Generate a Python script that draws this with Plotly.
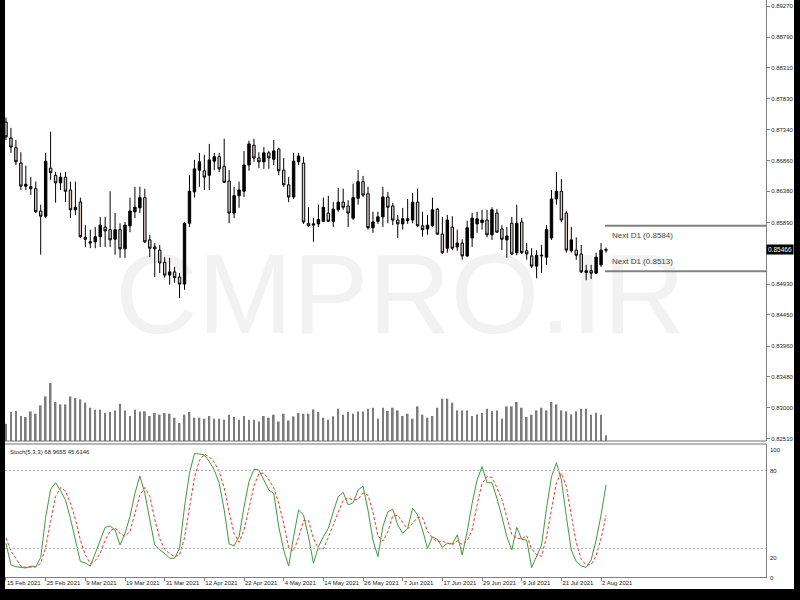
import plotly.graph_objects as go

# ---------------- data ----------------
tick_dates = ["15 Feb 2021", "25 Feb 2021", "9 Mar 2021", "19 Mar 2021", "31 Mar 2021",
              "12 Apr 2021", "22 Apr 2021", "4 May 2021", "14 May 2021", "26 May 2021",
              "7 Jun 2021", "17 Jun 2021", "29 Jun 2021", "9 Jul 2021", "21 Jul 2021", "2 Aug 2021"]
tick_every = 8

opens = [0.8746, 0.8721, 0.8706, 0.8682, 0.8646, 0.8645, 0.8642, 0.8607, 0.8599, 0.8674,
         0.8663, 0.8651, 0.8660, 0.8640, 0.8609, 0.8621, 0.8566, 0.8557, 0.8559, 0.8567,
         0.8582, 0.8578, 0.8563, 0.8578, 0.8548, 0.8584, 0.8606, 0.8612, 0.8628, 0.8562,
         0.8551, 0.8546, 0.8527, 0.8507, 0.8512, 0.8504, 0.8493, 0.8588, 0.8637, 0.8671,
         0.8670, 0.8663, 0.8685, 0.8692, 0.8677, 0.8654, 0.8604, 0.8631, 0.8638, 0.8679,
         0.8710, 0.8690, 0.8684, 0.8698, 0.8688, 0.8704, 0.8671, 0.8648, 0.8629, 0.8684,
         0.8682, 0.8588, 0.8585, 0.8587, 0.8591, 0.8604, 0.8591, 0.8609, 0.8621, 0.8615,
         0.8596, 0.8627, 0.8653, 0.8634, 0.8581, 0.8591, 0.8598, 0.8629, 0.8615, 0.8593,
         0.8587, 0.8592, 0.8593, 0.8621, 0.8584, 0.8579, 0.8584, 0.8610, 0.8571, 0.8549,
         0.8582, 0.8551, 0.8557, 0.8537, 0.8565, 0.8587, 0.8589, 0.8593, 0.8570, 0.8604,
         0.8579, 0.8562, 0.8588, 0.8542, 0.8590, 0.8545, 0.8537, 0.8521, 0.8537, 0.8535,
         0.8565, 0.8626, 0.8638, 0.8604, 0.8545, 0.8546, 0.8540, 0.8511, 0.8514, 0.8510,
         0.8523, 0.8546]
highs = [0.8753, 0.8737, 0.8718, 0.8699, 0.8678, 0.8660, 0.8653, 0.8617, 0.8698, 0.8731,
         0.8668, 0.8667, 0.8668, 0.8653, 0.8653, 0.8628, 0.8585, 0.8578, 0.8582, 0.8598,
         0.8598, 0.8638, 0.8604, 0.8588, 0.8590, 0.8628, 0.8645, 0.8645, 0.8642, 0.8570,
         0.8557, 0.8554, 0.8535, 0.8534, 0.8520, 0.8510, 0.8590, 0.8663, 0.8687, 0.8698,
         0.8695, 0.8712, 0.8698, 0.8698, 0.8720, 0.8671, 0.8645, 0.8653, 0.8701, 0.8717,
         0.8720, 0.8699, 0.8707, 0.8701, 0.8718, 0.8706, 0.8690, 0.8660, 0.8698, 0.8698,
         0.8692, 0.8613, 0.8596, 0.8617, 0.8628, 0.8631, 0.8621, 0.8643, 0.8642, 0.8624,
         0.8650, 0.8671, 0.8662, 0.8645, 0.8606, 0.8606, 0.8645, 0.8637, 0.8620, 0.8601,
         0.8612, 0.8626, 0.8635, 0.8642, 0.8606, 0.8601, 0.8628, 0.8612, 0.8598, 0.8601,
         0.8599, 0.8578, 0.8563, 0.8592, 0.8604, 0.8606, 0.8609, 0.8609, 0.8613, 0.8610,
         0.8585, 0.8582, 0.8598, 0.8617, 0.8596, 0.8557, 0.8549, 0.8546, 0.8554, 0.8585,
         0.8640, 0.8668, 0.8657, 0.8607, 0.8582, 0.8566, 0.8554, 0.8523, 0.8523, 0.8542,
         0.8557, 0.8550]
lows = [0.8718, 0.8698, 0.8679, 0.8640, 0.8640, 0.8632, 0.8604, 0.8539, 0.8596, 0.8656,
        0.8620, 0.8640, 0.8621, 0.8596, 0.8601, 0.8565, 0.8551, 0.8549, 0.8549, 0.8551,
        0.8551, 0.8551, 0.8539, 0.8534, 0.8534, 0.8574, 0.8596, 0.8604, 0.8557, 0.8535,
        0.8504, 0.8510, 0.8503, 0.8492, 0.8495, 0.8471, 0.8484, 0.8582, 0.8628, 0.8645,
        0.8640, 0.8640, 0.8671, 0.8668, 0.8651, 0.8588, 0.8596, 0.8612, 0.8629, 0.8670,
        0.8684, 0.8674, 0.8673, 0.8673, 0.8679, 0.8663, 0.8645, 0.8621, 0.8626, 0.8679,
        0.8587, 0.8582, 0.8559, 0.8582, 0.8590, 0.8590, 0.8582, 0.8606, 0.8609, 0.8582,
        0.8593, 0.8617, 0.8629, 0.8578, 0.8573, 0.8587, 0.8582, 0.8588, 0.8585, 0.8565,
        0.8578, 0.8587, 0.8588, 0.8582, 0.8567, 0.8570, 0.8582, 0.8570, 0.8540, 0.8542,
        0.8546, 0.8545, 0.8531, 0.8535, 0.8551, 0.8573, 0.8578, 0.8566, 0.8562, 0.8573,
        0.8546, 0.8534, 0.8538, 0.8538, 0.8540, 0.8531, 0.8518, 0.8502, 0.8510, 0.8523,
        0.8562, 0.8617, 0.8590, 0.8542, 0.8542, 0.8531, 0.8510, 0.8499, 0.8501, 0.8509,
        0.8520, 0.8542]
closes = [0.8723, 0.8707, 0.8684, 0.8646, 0.8649, 0.8642, 0.8606, 0.8599, 0.8685, 0.8667,
          0.8651, 0.8660, 0.8638, 0.8609, 0.8613, 0.8567, 0.8563, 0.8559, 0.8567, 0.8585,
          0.8576, 0.8562, 0.8578, 0.8548, 0.8585, 0.8607, 0.8613, 0.8628, 0.8559, 0.8549,
          0.8548, 0.8526, 0.8507, 0.8512, 0.8503, 0.8493, 0.8588, 0.8638, 0.8673, 0.8684,
          0.8660, 0.8687, 0.8692, 0.8673, 0.8652, 0.8604, 0.8631, 0.8640, 0.8679, 0.8712,
          0.8690, 0.8684, 0.8698, 0.8690, 0.8701, 0.8670, 0.8648, 0.8629, 0.8685, 0.8693,
          0.8590, 0.8584, 0.8587, 0.8594, 0.8613, 0.8591, 0.8610, 0.8621, 0.8613, 0.8604,
          0.8628, 0.8653, 0.8632, 0.8581, 0.8590, 0.8598, 0.8629, 0.8613, 0.8593, 0.8587,
          0.8595, 0.8595, 0.8621, 0.8584, 0.8578, 0.8585, 0.8609, 0.8571, 0.8542, 0.8593,
          0.8549, 0.8557, 0.8537, 0.8581, 0.8596, 0.8595, 0.8593, 0.8570, 0.8609, 0.8574,
          0.8563, 0.8568, 0.8540, 0.8588, 0.8542, 0.8540, 0.8521, 0.8538, 0.8538, 0.8578,
          0.8626, 0.8638, 0.8593, 0.8546, 0.8562, 0.8538, 0.8512, 0.8514, 0.8510, 0.8535,
          0.8546, 0.85466]
volumes = [17300, 29000, 30000, 25000, 24000, 29600, 27300, 35600, 44600, 58000,
           39000, 36600, 36600, 44600, 43000, 41600, 38300, 33300, 31300, 31300,
           28000, 29000, 30600, 37300, 30600, 25000, 31300, 29600, 29600, 25000,
           28000, 26300, 28000, 27300, 23300, 18000, 26300, 29000, 23300, 23300,
           22300, 25000, 22300, 22300, 21300, 26300, 24000, 21300, 25000, 21300,
           21300, 19600, 25000, 23300, 26300, 19600, 27300, 20600, 24600, 28000,
           27300, 27300, 31600, 29000, 23300, 21300, 24600, 32300, 26300, 29000,
           27300, 29600, 29600, 32300, 33300, 22300, 33300, 30000, 33300, 30600,
           25000, 27300, 22300, 34600, 26300, 23300, 25000, 33300, 42300, 42300,
           38300, 30600, 30600, 30600, 25000, 26600, 28000, 32300, 30000, 30600,
           22300, 34600, 34600, 39000, 33300, 24000, 26300, 30600, 33300, 30600,
           39000, 36600, 30600, 29600, 26600, 29600, 32300, 32300, 26300, 28300,
           26300, 5700]
stoch_k = [24.0, 7.3, 6.0, 5.5, 5.0, 6.5, 6.0, 13.0, 44.0, 65.5,
           70.6, 64.5, 57.3, 43.0, 26.5, 9.9, 9.0, 6.5, 16.3, 26.5,
           36.3, 37.3, 34.2, 22.7, 31.7, 44.5, 62.4, 75.8, 62.4, 42.0,
           22.7, 18.8, 16.3, 12.5, 12.5, 20.0, 52.0, 77.8, 93.0, 92.7,
           92.0, 86.8, 80.4, 70.2, 49.6, 23.5, 22.0, 29.0, 52.0, 71.4,
           81.0, 80.4, 72.7, 65.0, 62.4, 36.8, 18.8, 6.5, 29.0, 49.6,
           45.8, 29.0, 8.6, 21.4, 29.0, 35.5, 48.3, 59.8, 63.2, 53.5,
           55.2, 65.0, 68.0, 49.6, 26.5, 13.7, 36.8, 48.3, 50.2, 38.0,
           31.7, 35.5, 51.0, 45.8, 34.2, 20.1, 29.0, 27.0, 20.9, 24.0,
           23.5, 30.4, 15.0, 33.0, 54.7, 72.7, 83.0, 70.6, 70.6, 58.6,
           44.5, 29.0, 18.8, 36.3, 27.0, 26.5, 5.3, 13.7, 22.7, 51.0,
           75.2, 86.0, 72.7, 44.5, 18.8, 9.9, 6.5, 5.5, 11.2, 26.5,
           45.8, 68.9655]
stoch_d = [28.0, 18.0, 12.4, 6.3, 5.5, 5.7, 5.8, 8.5, 21.0, 40.8,
           60.0, 66.9, 64.1, 54.9, 42.3, 26.5, 15.1, 8.5, 10.6, 16.4,
           26.4, 33.4, 35.9, 31.4, 29.5, 33.0, 46.2, 60.9, 66.9, 60.1,
           42.4, 27.8, 19.3, 15.9, 13.8, 15.0, 28.2, 49.9, 74.3, 87.8,
           92.6, 90.5, 86.4, 79.1, 66.7, 47.8, 31.7, 24.8, 34.3, 50.8,
           68.1, 77.6, 78.0, 72.7, 66.7, 54.7, 39.3, 20.7, 18.1, 28.4,
           41.5, 41.5, 27.8, 19.7, 19.7, 28.6, 37.6, 47.9, 57.1, 58.8,
           57.3, 57.9, 62.7, 60.9, 48.0, 29.9, 25.7, 32.9, 45.1, 45.5,
           40.0, 35.1, 39.4, 44.1, 43.7, 33.4, 27.8, 25.4, 25.6, 24.0,
           22.8, 26.0, 23.0, 26.1, 34.2, 53.5, 70.1, 75.4, 74.7, 66.6,
           57.9, 44.0, 30.8, 28.0, 27.4, 29.9, 19.6, 15.2, 13.9, 29.1,
           49.6, 70.7, 78.0, 67.7, 45.3, 24.4, 11.7, 7.3, 7.7, 14.4,
           27.8, 45.6146]

price_ticks = [0.8251, 0.8300, 0.8348, 0.8396, 0.8445, 0.8493, 0.8589, 0.8638,
               0.8686, 0.8734, 0.8783, 0.8831, 0.8879, 0.8927]
price_tick_text = ["0.82510", "0.83000", "0.83480", "0.83960", "0.84450", "0.84930",
                   "0.85890", "0.86380", "0.86860", "0.87340", "0.87830", "0.88310",
                   "0.88790", "0.89270"]
next_d1 = [0.8584, 0.8513]
last_price = 0.85466
stoch_levels = [80, 20]
stoch_scale_labels = ["100", "80", "20", "0"]
stoch_label = "Stoch(5,3,3) 68.9655 45.6146"
watermark = "CMPRO.IR"

# ---------------- figure ----------------
n = len(opens)
xs = list(range(n))
FONT = "Liberation Sans, Arial, sans-serif"
GRAY = "#808080"
PLOT_H = 577.0  # plot-area height in px (paper coordinates are relative to it)

fig = go.Figure()

# watermark on hidden base axis (drawn beneath the overlaid price/volume axes)
fig.add_trace(go.Scatter(x=[79.5], y=[0.31], mode="text", text=[watermark],
                         textfont=dict(size=114, color="#f2f2f2", family=FONT),
                         xaxis="x", yaxis="y", hoverinfo="skip", showlegend=False,
                         cliponaxis=False))

fig.add_trace(go.Bar(x=xs, y=volumes, width=0.35, marker=dict(color="#7c7c7c", line=dict(width=0)),
                     xaxis="x", yaxis="y3", showlegend=False, hoverinfo="skip"))

fig.add_trace(go.Candlestick(x=xs, open=opens, high=highs, low=lows, close=closes,
                             increasing=dict(line=dict(color="black", width=1), fillcolor="black"),
                             decreasing=dict(line=dict(color="black", width=1), fillcolor="#d8c8c8"),
                             whiskerwidth=0, xaxis="x", yaxis="y4", showlegend=False))

fig.add_trace(go.Scatter(x=xs, y=stoch_k, mode="lines", line=dict(color="#3c9c3c", width=1),
                         xaxis="x", yaxis="y2", showlegend=False))
fig.add_trace(go.Scatter(x=xs, y=stoch_d, mode="lines", line=dict(color="#ff3030", width=1, dash="3px,2px"),
                         xaxis="x", yaxis="y2", showlegend=False))

main_dom = [(PLOT_H - 441) / PLOT_H, 1]
stoch_dom = [0, (PLOT_H - 444) / PLOT_H]

shapes = [
    dict(type="rect", xref="paper", yref="paper", x0=0, x1=(794 - 5) / 761,
         y0=(PLOT_H - 589) / PLOT_H, y1=1.02, fillcolor="white", line=dict(width=0), layer="below"),
    dict(type="line", xref="paper", yref="paper", x0=0, x1=1, y0=main_dom[0], y1=main_dom[0],
         line=dict(color="#707070", width=1)),
    dict(type="line", xref="paper", yref="paper", x0=0, x1=1, y0=stoch_dom[1], y1=stoch_dom[1],
         line=dict(color="#707070", width=1)),
]
for lv in stoch_levels:
    shapes.append(dict(type="line", xref="paper", yref="y2", x0=0, x1=1, y0=lv, y1=lv,
                       line=dict(color="#b4b4b4", width=1, dash="2px,2px")))
x_end = 153.26
for v in next_d1:
    shapes.append(dict(type="line", xref="x", yref="y4", x0=120.8, x1=x_end, y0=v, y1=v,
                       line=dict(color=GRAY, width=2)))

annotations = [
    dict(x=121.8, y=next_d1[0], xref="x", yref="y4", text=f"Next D1 ({next_d1[0]:.4f})",
         showarrow=False, xanchor="left", yanchor="top", yshift=-3,
         font=dict(size=8, color="#444444", family=FONT)),
    dict(x=121.8, y=next_d1[1], xref="x", yref="y4", text=f"Next D1 ({next_d1[1]:.4f})",
         showarrow=False, xanchor="left", yanchor="bottom", yshift=3,
         font=dict(size=8, color="#444444", family=FONT)),
    dict(x=1, y=last_price, xref="paper", yref="y4", text=f"{last_price:.5f}",
         showarrow=False, xanchor="left", yanchor="middle", xshift=0,
         bgcolor="black", borderpad=1, font=dict(size=6.5, color="white", family=FONT)),
    dict(x=0.004, y=(PLOT_H - 452) / PLOT_H, xref="paper", yref="paper", text=stoch_label,
         showarrow=False, xanchor="left", yanchor="middle",
         font=dict(size=6, color="#222222", family=FONT)),
]
for txt, px in zip(stoch_scale_labels, [450, 471, 558, 578]):
    annotations.append(dict(x=1, y=(PLOT_H - px) / PLOT_H, xref="paper", yref="paper", text=txt,
                            showarrow=False, xanchor="left", yanchor="middle", xshift=2,
                            font=dict(size=6, color="#222222", family=FONT)))

fig.update_layout(
    width=800, height=600,
    margin=dict(l=5, r=34, t=0, b=23),
    paper_bgcolor="black", plot_bgcolor="white",
    showlegend=False, hovermode=False,
    shapes=shapes, annotations=annotations,
    xaxis=dict(domain=[0, 1], range=[-0.2, x_end], anchor="y2",
               tickvals=[i * tick_every for i in range(len(tick_dates))], ticktext=tick_dates,
               ticks="outside", ticklen=3, tickcolor=GRAY, tickwidth=1, tickangle=0,
               ticklabelposition="outside right",
               showline=True, linecolor=GRAY, linewidth=1,
               showgrid=False, zeroline=False,
               tickfont=dict(size=6, color="#222222", family=FONT),
               rangeslider=dict(visible=False)),
    yaxis=dict(domain=main_dom, range=[0, 1], visible=False, anchor="x"),
    yaxis3=dict(overlaying="y", range=[0, 441000], visible=False, anchor="x"),
    yaxis4=dict(overlaying="y", side="right", anchor="x",
                range=[0.82478, 0.89368], tickvals=price_ticks, ticktext=price_tick_text,
                ticks="outside", ticklen=3, tickcolor=GRAY,
                showline=True, linecolor=GRAY, linewidth=1,
                showgrid=False, zeroline=False,
                tickfont=dict(size=6, color="#222222", family=FONT)),
    yaxis2=dict(domain=stoch_dom, range=[-1.92, 100.38], side="right", anchor="x",
                showline=True, linecolor=GRAY, linewidth=1,
                showticklabels=False, ticks="", showgrid=False, zeroline=False),
)

fig.write_html("out.html", config={"displayModeBar": False},
               post_script="document.body.style.margin='0px';document.body.style.background='black';")
